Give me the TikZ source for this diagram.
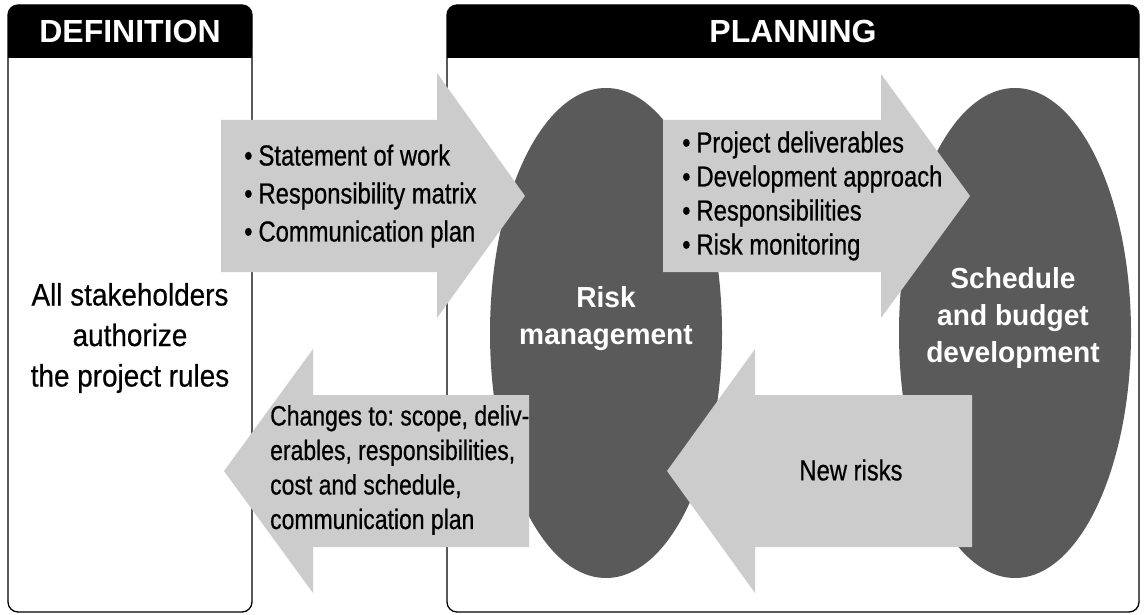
\documentclass[tikz,border=0pt]{standalone}
\usepackage{fontspec}
\setmainfont{Liberation Sans}
\newfontfamily\condfont[FakeStretch=0.82, FakeBold=0.6]{Liberation Sans}
\newfontfamily\leftfont[FakeStretch=0.9, FakeBold=0.5]{Liberation Sans}
\newfontfamily\ellfont[FakeStretch=0.97]{Liberation Sans}
\definecolor{ellgray}{HTML}{5A5A5A}
\definecolor{arrowgray}{HTML}{CCCCCC}
\frenchspacing
\tikzset{
  panel/.style={draw=black, line width=1.3pt, rounded corners=10pt},
  header/.style={fill=black, rounded corners=10pt},
  headtext/.style={text=white, font=\fontsize{32}{36}\selectfont\bfseries, inner sep=0pt},
  blockarrow/.style={fill=arrowgray},
  bubble/.style={fill=ellgray},
  arrowtext/.style={align=left, inner sep=0pt, text=black},
  bubbletext/.style={align=center, inner sep=0pt, text=white,
    font=\ellfont\bfseries\fontsize{29}{37}\selectfont},
}
\newcommand{\itembul}{\textbullet\hspace{6pt}}
\begin{document}
\begin{tikzpicture}[x=1pt, y=-1pt]
\useasboundingbox (0,0) rectangle (1145,615);
\fill[white] (0,0) rectangle (1145,615);

% panels
\draw[panel] (8,5) rectangle (252,612);
\fill[header] (8,5) rectangle (252,58);
\fill[black] (8,30) rectangle (252,58);
\node[headtext] (defhead) at (130,31) {DEFINITION};

\draw[panel] (447,5) rectangle (1139,612);
\fill[header] (447,5) rectangle (1139,58);
\fill[black] (447,30) rectangle (1139,58);
\node[headtext] (planhead) at (793,31) {PLANNING};

% bubbles
\fill[bubble] (606,333) ellipse [x radius=116, y radius=245];
\fill[bubble] (1015,333) ellipse [x radius=116, y radius=245];

% block arrows
\fill[blockarrow] (221,120) -- (437,120) -- (437,73) -- (525,196) -- (437,318) -- (437,272) -- (221,272) -- cycle;
\fill[blockarrow] (663,120) -- (881,120) -- (881,74) -- (970,196) -- (881,318) -- (881,272) -- (663,272) -- cycle;
\fill[blockarrow] (529,395) -- (313,395) -- (313,349) -- (224,471) -- (313,593) -- (313,547) -- (529,547) -- cycle;
\fill[blockarrow] (972,395) -- (755,395) -- (755,349) -- (667,471) -- (755,593) -- (755,547) -- (972,547) -- cycle;

% texts
\node[align=center, inner sep=0pt, font=\leftfont\fontsize{31}{40.5}\selectfont] (rules) at (130,338)
  {All stakeholders\\authorize\\the project rules};

\node[arrowtext, anchor=west, font=\condfont\fontsize{29}{38}\selectfont] (defout) at (244,196)
  {\itembul Statement of work\\\itembul Responsibility matrix\\\itembul Communication plan};

\node[arrowtext, anchor=west, font=\condfont\fontsize{29}{34}\selectfont] (riskout) at (682,196)
  {\itembul Project deliverables\\\itembul Development approach\\\itembul Responsibilities\\\itembul Risk monitoring};

\node[arrowtext, anchor=west, font=\condfont\fontsize{28}{34.5}\selectfont] (changes) at (270,470)
  {Changes to: scope, deliv-\\erables, responsibilities,\\cost and schedule,\\communication plan};

\node[arrowtext, font=\condfont\fontsize{29}{34}\selectfont] (newrisks) at (851,470) {New risks};

\node[bubbletext] (risk) at (606,319) {Risk\\management};
\node[bubbletext] (sched) at (1013,318) {Schedule\\and budget\\development};
\end{tikzpicture}
\end{document}
